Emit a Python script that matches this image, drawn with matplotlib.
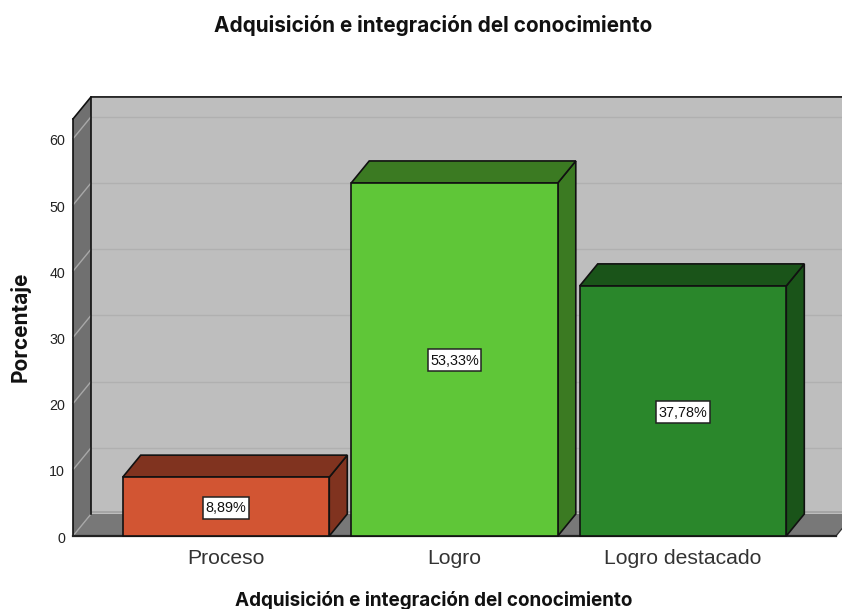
import matplotlib
matplotlib.use("Agg")
import matplotlib.pyplot as plt
from matplotlib.patches import Polygon, Rectangle

categories = ["Proceso", "Logro", "Logro destacado"]
values = [8.89, 53.33, 37.78]
labels = ["8,89%", "53,33%", "37,78%"]
front_colors = ["#D25533", "#5FC638", "#2A872B"]
top_colors = ["#80331F", "#3B7A22", "#1A5419"]
side_colors = ["#80331F", "#3B7A22", "#1A5419"]
yticks = [0, 10, 20, 30, 40, 50, 60]
title = "Adquisición e integración del conocimiento"
xlabel = "Adquisición e integración del conocimiento"
ylabel = "Porcentaje"

W, H = 842, 609
PX_X = 228.5
PX_Y = 6.62
X0, Y0 = 226.0, 536.0
DX = 18 / PX_X
DY = 22 / PX_Y
BAR_W = 0.904
YMAX = 63.0
XL = (73 - X0) / PX_X
XR = (836 - X0) / PX_X

plt.rcParams["font.family"] = ["Liberation Sans", "DejaVu Sans"]
fig = plt.figure(figsize=(W / 100, H / 100), dpi=100)
ax = fig.add_axes([0, 0, 1, 1])
ax.set_xlim(-X0 / PX_X, (W - X0) / PX_X)
ax.set_ylim((Y0 - H) / PX_Y, Y0 / PX_Y)
ax.axis("off")

EDGE = "#111111"


def fx(px):
    return (px - X0) / PX_X


def fy(px):
    return (Y0 - px) / PX_Y


def poly(pts, fc, ec="none", lw=1.2, z=1):
    ax.add_patch(Polygon(pts, closed=True, facecolor=fc, edgecolor=ec, linewidth=lw,
                         joinstyle="miter", zorder=z))


# walls
poly([(XL + DX, DY), (XR + DX, DY), (XR + DX, YMAX + DY), (XL + DX, YMAX + DY)], "#BEBEBE", z=1)
poly([(XL, 0), (XL + DX, DY), (XL + DX, YMAX + DY), (XL, YMAX)], "#707070", z=1)
poly([(XL, 0), (XR, 0), (XR + DX, DY), (XL + DX, DY)], "#787878", z=1)
ax.plot([XL + DX, XR + DX], [DY + 0.25, DY + 0.25], color="#A0A0A0", lw=1.2, zorder=2)

# gridlines
for t in yticks:
    if t > 0:
        ax.plot([XL + DX, XR + DX], [t + DY, t + DY], color="#B0B0B0", lw=1.0, zorder=2)
    ax.plot([XL, XL + DX], [t, t + DY], color="#A8A8A8", lw=1.0, zorder=2)

ax.plot([XL + DX, XL + DX], [DY, YMAX + DY], color=EDGE, lw=1.2, zorder=3)
ax.plot([XL, XL + DX, XR + DX], [YMAX, YMAX + DY, YMAX + DY], color=EDGE, lw=1.2, zorder=3,
        solid_joinstyle="miter")
ax.plot([XL, XL], [0, YMAX], color=EDGE, lw=1.2, zorder=3)
ax.plot([XR, XR + DX], [0, DY], color="#333333", lw=0.9, zorder=3)

# axis labels
for t in yticks:
    ax.text(fx(65), t - 0.4, str(t), ha="right", va="center", fontsize=10.3, color="#222222")

# bars
fig.canvas.draw()
renderer = fig.canvas.get_renderer()
for i, (v, lab, fc, tc, sc) in enumerate(zip(values, labels, front_colors, top_colors, side_colors)):
    l, r = i - BAR_W / 2, i + BAR_W / 2
    z = 4 + i
    poly([(r, 0), (r + DX, DY), (r + DX, v + DY), (r, v)], sc, ec=EDGE, z=z)
    poly([(l, v), (r, v), (r + DX, v + DY), (l + DX, v + DY)], tc, ec=EDGE, z=z)
    poly([(l, 0), (r, 0), (r, v), (l, v)], fc, ec=EDGE, z=z)
    cy = v / 2 - 0.15
    txt = ax.text(i, cy - 0.1, lab, ha="center", va="center", fontsize=10.4, color="#111111", zorder=11)
    bb = txt.get_window_extent(renderer)
    bw = (bb.width + 5) / PX_X
    bh = 22 / PX_Y
    ax.add_patch(Rectangle((i - bw / 2, cy - bh / 2), bw, bh, facecolor="white",
                           edgecolor="#222222", linewidth=1.1, zorder=10))
    ax.text(i, fy(558), categories[i], ha="center", va="center", fontsize=15.2, color="#333333")

ax.plot([XL, XR], [0, 0], color="#222222", lw=1.6, zorder=3)

ax.text(fx(433.5), fy(25), title, ha="center", va="center", fontsize=14.95, family="Inter",
        fontweight="bold", color="#111111")
ax.text(fx(434), fy(600), xlabel, ha="center", va="center", fontsize=13.6, family="Inter",
        fontweight="bold", color="#111111")
ax.text(fx(20), fy(326.5), ylabel, ha="center", va="center", rotation=90,
        fontsize=15, family="Inter", fontweight="bold", color="#111111")

fig.savefig("out.png", dpi=100)
